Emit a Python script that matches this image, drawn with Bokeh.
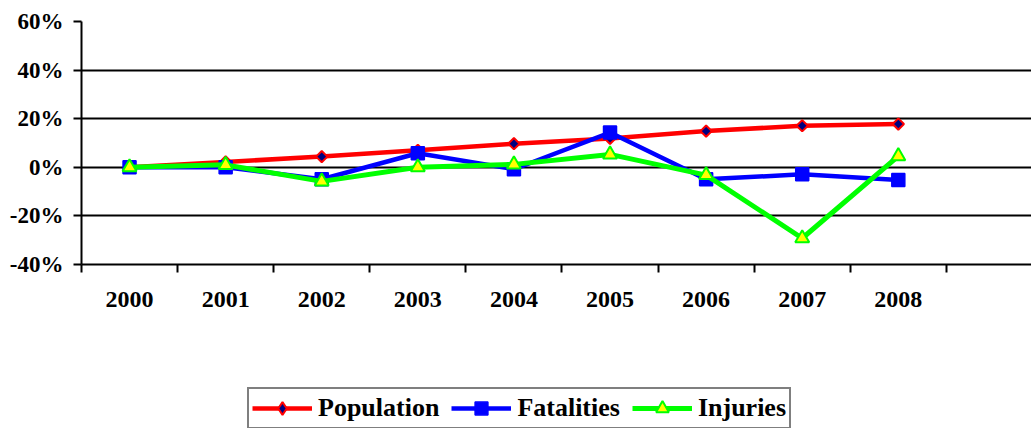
from bokeh.plotting import figure
from bokeh.layouts import column, row
from bokeh.models import (Range1d, FixedTicker, PrintfTickFormatter, CustomJSTickFormatter,
                          Legend, LegendItem, Spacer)
from bokeh.embed import file_html
from bokeh.resources import INLINE
import numpy as np

# ---- data (percent change vs 2000) ----
years = ["2000", "2001", "2002", "2003", "2004", "2005", "2006", "2007", "2008"]
population = [0.0, 2.2, 4.4, 7.0, 9.7, 11.9, 14.9, 17.1, 17.8]
fatalities = [0.0, 0.0, -4.9, 5.8, -0.8, 14.3, -4.9, -2.9, -5.2]
injuries = [0.0, 1.0, -5.8, 0.0, 1.2, 5.3, -3.2, -29.2, 4.6]
y_ticks = [-40, -20, 0, 20, 40, 60]

n_slots = 10
xs = [i + 0.5 for i in range(len(years))]

FONT = "Liberation Serif"

STYLES = {
    "Population": dict(data=population, line="#FF0000", lw=4.5,
                       marker=dict(marker="square", angle=np.pi / 4, size=8,
                                   fill_color="#000080", line_color="#FF0000", line_width=2),
                       legend_marker=dict(marker="diamond",
                                          fill_color="#000080", line_color="#FF0000", line_width=2)),
    "Fatalities": dict(data=fatalities, line="#0000FF", lw=4.5,
                       marker=dict(marker="square", size=13,
                                   fill_color="#0000FF", line_color="#0000FF", line_width=1.5),
                       legend_marker=dict(marker="square",
                                          fill_color="#0000FF", line_color="#0000FF", line_width=1.5)),
    "Injuries": dict(data=injuries, line="#00FF00", lw=5,
                     marker=dict(marker="triangle", size=14,
                                 fill_color="#FFFF00", line_color="#00FF00", line_width=2),
                     legend_marker=dict(marker="triangle",
                                        fill_color="#FFFF00", line_color="#00FF00", line_width=2)),
}


def draw_series(fig, legend_style=False):
    out = {}
    for name, st in STYLES.items():
        rl = fig.line(xs, st["data"], line_color=st["line"], line_width=st["lw"])
        mk = st["legend_marker"] if legend_style else st["marker"]
        rm = fig.scatter(xs, st["data"], **mk)
        out[name] = [rl, rm]
    return out


# ---------------- main chart ----------------
p = figure(width=1031, height=380, output_backend="svg", toolbar_location=None,
           x_range=Range1d(0, 9.886), y_range=Range1d(-40, 60),
           min_border_left=81, min_border_right=0, min_border_top=21, min_border_bottom=116)
p.outline_line_color = None
p.background_fill_color = "white"
p.border_fill_color = "white"

xa = p.xaxis[0]
xa.ticker = FixedTicker(ticks=xs, minor_ticks=list(range(n_slots + 1)))
xa.formatter = CustomJSTickFormatter(args=dict(labels=years), code="""
    const i = Math.round(tick - 0.5);
    return (i >= 0 && i < labels.length) ? labels[i] : "";
""")
xa.major_tick_out = 0
xa.major_tick_in = 0
xa.minor_tick_out = 8
xa.minor_tick_in = 0
xa.minor_tick_line_color = "black"
xa.minor_tick_line_width = 2
xa.axis_line_color = "black"
xa.axis_line_width = 2
xa.major_label_text_font = FONT
xa.major_label_text_font_style = "bold"
xa.major_label_text_font_size = "24px"
xa.major_label_text_color = "black"
xa.major_label_standoff = 19

ya = p.yaxis[0]
ya.ticker = FixedTicker(ticks=y_ticks, minor_ticks=[])
ya.formatter = PrintfTickFormatter(format="%d%%")
ya.major_tick_out = 8
ya.major_tick_in = 0
ya.major_tick_line_width = 2
ya.major_tick_line_color = "black"
ya.axis_line_color = "black"
ya.axis_line_width = 2
ya.major_label_text_font = FONT
ya.major_label_text_font_style = "bold"
ya.major_label_text_font_size = "23px"
ya.major_label_text_color = "black"
ya.major_label_standoff = 10

p.xgrid.visible = False
p.ygrid.ticker = FixedTicker(ticks=y_ticks)
p.ygrid.grid_line_color = "black"
p.ygrid.grid_line_width = 2

draw_series(p)

# ---------------- legend strip ----------------
lg = figure(width=791, height=48, output_backend="svg", toolbar_location=None,
            x_range=Range1d(100, 101), y_range=Range1d(100, 101),
            x_axis_location=None, y_axis_location=None,
            min_border=0, min_border_left=0, min_border_right=0,
            min_border_top=0, min_border_bottom=0)
lg.outline_line_color = None
lg.grid.visible = False
lg.background_fill_color = "white"
lg.border_fill_color = "white"
rs = draw_series(lg, legend_style=True)

legend = Legend(items=[LegendItem(label=name, renderers=r) for name, r in rs.items()],
                location="top_left", orientation="horizontal")
legend.label_text_font = FONT
legend.label_text_font_style = "bold"
legend.label_text_font_size = "26px"
legend.label_text_color = "black"
legend.glyph_width = 60
legend.glyph_height = 32
legend.label_standoff = 6
legend.spacing = 12
legend.padding = 3
legend.margin = 7
legend.border_line_color = "black"
legend.border_line_width = 2
legend.background_fill_color = "white"
legend.background_fill_alpha = 1
lg.add_layout(legend, "center")

layout = column(p, row(Spacer(width=240, height=48), lg, spacing=0), spacing=0)

open("out.html", "w").write(file_html(layout, INLINE))
